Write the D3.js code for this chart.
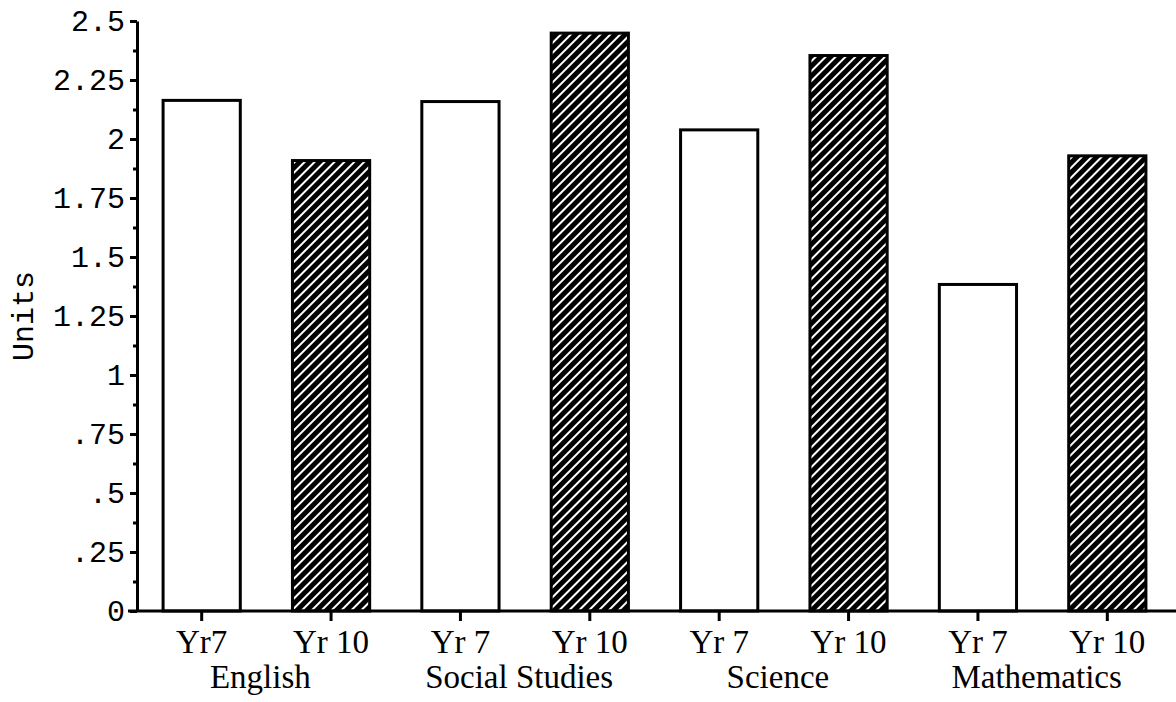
<!DOCTYPE html>
<html>
<head>
<meta charset="utf-8">
<script src="https://cdn.jsdelivr.net/npm/d3@7"></script>
<style>
  body { margin: 0; background: #fff; }
  svg { display: block; }
</style>
</head>
<body>
<div id="chart"></div>
<script>
// values
var subjects = ["English", "Social Studies", "Science", "Mathematics"]
var barLabels = ["Yr7", "Yr 10", "Yr 7", "Yr 10", "Yr 7", "Yr 10", "Yr 7", "Yr 10"]
var yr7 = [2.17, 2.165, 2.045, 1.39]
var yr10 = [1.915, 2.455, 2.36, 1.935]
var yTicks = [0, 0.25, 0.5, 0.75, 1, 1.25, 1.5, 1.75, 2, 2.25, 2.5]
var yTickLabels = ["0", ".25", ".5", ".75", "1", "1.25", "1.5", "1.75", "2", "2.25", "2.5"]

var width = 1176, height = 702
var margin = {top: 21, right: 4, bottom: 91, left: 137}

var bars = []
subjects.forEach(function(s, i) {
  bars.push({subject: s, year: "7", value: yr7[i], id: s + "|7"})
  bars.push({subject: s, year: "10", value: yr10[i], id: s + "|10"})
})

var svg = d3.select("#chart").append("svg")
    .attr("width", width)
    .attr("height", height)

var defs = svg.append("defs")
var hatch = defs.append("pattern")
    .attr("id", "hatch")
    .attr("patternUnits", "userSpaceOnUse")
    .attr("width", 7)
    .attr("height", 7)
    .attr("patternTransform", "rotate(45)")
hatch.append("rect").attr("width", 7).attr("height", 7).attr("fill", "#000")
hatch.append("rect").attr("x", 0).attr("width", 2).attr("height", 7).attr("fill", "#fff")

var x = d3.scaleBand()
    .domain(bars.map(d => d.id))
    .range([margin.left, width - margin.right])
    .paddingInner(0.38)
    .paddingOuter(0.19)

var y = d3.scaleLinear()
    .domain([0, 2.5])
    .range([height - margin.bottom, margin.top])

// bars
svg.append("g")
  .selectAll("rect")
  .data(bars)
  .join("rect")
    .attr("x", d => x(d.id) + 1.5)
    .attr("y", d => y(d.value) + 1.5)
    .attr("width", x.bandwidth() - 3)
    .attr("height", d => y(0) - y(d.value) - 1.5)
    .attr("fill", d => d.year == "7" ? "#fff" : "url(#hatch)")
    .attr("stroke", "#000")
    .attr("stroke-width", 3)

// y axis, minor ticks first
var minor = d3.range(0.125, 2.5, 0.25)
svg.append("g")
    .attr("transform", "translate(" + margin.left + ",0)")
    .call(d3.axisLeft(y).tickValues(minor).tickSize(4).tickFormat(""))
    .call(g => g.select(".domain").remove())
    .call(g => g.selectAll("line").attr("stroke-width", 3))

svg.append("g")
    .attr("transform", "translate(" + margin.left + ",0)")
    .call(d3.axisLeft(y).tickValues(yTicks).tickSize(7).tickSizeOuter(0).tickPadding(5)
      .tickFormat((d, i) => yTickLabels[i]))
    .call(g => g.select(".domain").attr("stroke-width", 3))
    .call(g => g.selectAll("line").attr("stroke-width", 3))
    .call(g => g.selectAll("text")
      .attr("font-family", "'Liberation Mono', 'DejaVu Sans Mono', monospace")
      .attr("font-size", 30)
      .attr("fill", "#000"))

// x axis
svg.append("g")
    .attr("transform", "translate(0," + y(0) + ")")
    .call(d3.axisBottom(x).tickSize(10).tickPadding(8).tickFormat((d, i) => barLabels[i]))
    .call(g => g.select(".domain").remove())
    .call(g => g.selectAll("line").attr("stroke-width", 3))
    .call(g => g.selectAll("text")
      .attr("dy", "0.74em")
      .attr("font-family", "'Liberation Serif', 'Times New Roman', serif")
      .attr("font-size", 33)
      .attr("fill", "#000"))

svg.append("line")
    .attr("x1", margin.left - 9)
    .attr("x2", width)
    .attr("y1", y(0))
    .attr("y2", y(0))
    .attr("stroke", "#000")
    .attr("stroke-width", 3)

// subject labels under each pair
svg.append("g")
  .selectAll("text")
  .data(subjects)
  .join("text")
    .attr("x", s => (x(s + "|7") + x(s + "|10") + x.bandwidth()) / 2 - 6)
    .attr("y", y(0) + 77)
    .attr("text-anchor", "middle")
    .attr("font-family", "'Liberation Serif', 'Times New Roman', serif")
    .attr("font-size", 33)
    .text(s => s)

svg.append("text")
    .attr("transform", "translate(33," + (y(1.25)) + ") rotate(-90)")
    .attr("text-anchor", "middle")
    .attr("font-family", "'Liberation Mono', 'DejaVu Sans Mono', monospace")
    .attr("font-size", 30)
    .text("Units")
</script>
</body>
</html>
